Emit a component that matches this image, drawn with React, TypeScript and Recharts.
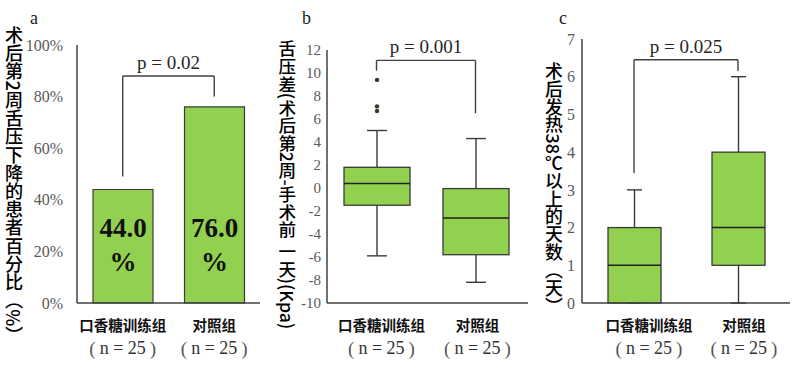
import React from "react";
import { ComposedChart, BarChart, Bar, XAxis, YAxis, ReferenceLine, Label, LabelList } from "recharts";

const groups = ["口香糖训练组", "对照组"];
const groupN = ["n = 25", "n = 25"];

// panel a: share of patients with lower tongue pressure at week 2
const dropRate = [0.44, 0.76];
const pctTicks = [0, 0.2, 0.4, 0.6, 0.8, 1];

// panel b: tongue pressure change (kPa)
const bMin = [-5.9, -8.2];
const bQ1 = [-1.5, -5.8];
const bMedian = [0.4, -2.6];
const bQ3 = [1.8, -0.05];
const bMax = [5.0, 4.3];
const bOutliers = [[6.7, 7.1, 9.4], []];
const bTicks = [-10, -8, -6, -4, -2, 0, 2, 4, 6, 8, 10, 12];

// panel c: days with fever >= 38℃
const cMin = [0, 0];
const cQ1 = [0, 1];
const cMedian = [1, 2];
const cQ3 = [2, 4];
const cMax = [3, 6];
const cTicks = [0, 1, 2, 3, 4, 5, 6, 7];

const GREEN = "#92D050";
const EDGE = "#3a3a3a";
const SERIF = "'Liberation Serif', 'Times New Roman', serif";
const CJK = "'Noto Sans CJK SC', sans-serif";

const aData = groups.map((g, i) => ({ name: g, n: groupN[i], rate: dropRate[i] }));

const boxData = (mins: number[], q1s: number[], meds: number[], q3s: number[], maxs: number[], outs?: number[][]) =>
  groups.map((g, i) => ({
    name: g,
    n: groupN[i],
    min: mins[i],
    q1: q1s[i],
    median: meds[i],
    q3: q3s[i],
    max: maxs[i],
    outliers: outs ? outs[i] : [],
  }));

const bData = boxData(bMin, bQ1, bMedian, bQ3, bMax, bOutliers);
const cData = boxData(cMin, cQ1, cMedian, cQ3, cMax);

function CatTick(props: any) {
  const { x, y, payload, index, shift } = props;
  const dx = shift ? shift[index] || 0 : 0;
  const i = groups.indexOf(payload.value);
  return (
    <g>
      <text x={x + dx} y={y + 19} textAnchor="middle" dominantBaseline="central"
        fontFamily={CJK} fontWeight={700} fontSize={14.5} fill="#111">
        {payload.value}
      </text>
      <text x={x + dx} y={y + 43} textAnchor="middle" dominantBaseline="central"
        fontFamily={SERIF} fontSize={18} fill="#333">
        <tspan fill="#555" fontSize={19}>(</tspan>
        <tspan dx={4}>{groupN[i]}</tspan>
        <tspan dx={4} fill="#555" fontSize={19}>)</tspan>
      </text>
    </g>
  );
}

function makeBox(capW: number) {
  return (props: any) => {
    const { x, y, width, height, payload } = props;
    const yA = y;
    const yB = y + height;
    const pLo = Math.max(yA, yB);
    const pHi = Math.min(yA, yB);
    const lo = payload.min;
    const hi = payload.max;
    const py = (v: number) => pLo - ((v - lo) / (hi - lo)) * (pLo - pHi);
    const cx = x + width / 2;
    return (
      <g>
        <line x1={cx} x2={cx} y1={py(hi)} y2={py(payload.q3)} stroke={EDGE} strokeWidth={1.4} />
        <line x1={cx} x2={cx} y1={py(payload.q1)} y2={py(lo)} stroke={EDGE} strokeWidth={1.4} />
        <line x1={cx - capW / 2} x2={cx + capW / 2} y1={py(hi)} y2={py(hi)} stroke={EDGE} strokeWidth={1.4} />
        <line x1={cx - capW / 2} x2={cx + capW / 2} y1={py(lo)} y2={py(lo)} stroke={EDGE} strokeWidth={1.4} />
        <rect x={x} y={py(payload.q3)} width={width} height={py(payload.q1) - py(payload.q3)}
          fill={GREEN} stroke={EDGE} strokeWidth={1.3} />
        <line x1={x} x2={x + width} y1={py(payload.median)} y2={py(payload.median)} stroke="#222" strokeWidth={1.5} />
        {payload.outliers.map((v: number, k: number) => (
          <circle key={k} cx={cx} cy={py(v)} r={2.2} fill="#2f3b2a" />
        ))}
      </g>
    );
  };
}

function RateLabel(props: any) {
  const { x, y, width, height, value } = props;
  const cx = x + width / 2;
  const bottom = y + height;
  return (
    <g fontFamily={SERIF} fontWeight={700} fontSize={27} fill="#111">
      <text x={cx} y={bottom - 75} textAnchor="middle" dominantBaseline="central">
        {(value * 100).toFixed(1)}
      </text>
      <text x={cx} y={bottom - 41} textAnchor="middle" dominantBaseline="central">
        %
      </text>
    </g>
  );
}

const axisStyle = { stroke: "#404040", strokeWidth: 1.5 };
const bracket = { stroke: "#404040", strokeWidth: 1.4 };

function VTitle({ text, left, top, size }: { text: string; left: number; top: number; size: number }) {
  return (
    <div
      style={{
        position: "absolute",
        left: left - size / 2,
        top,
        writingMode: "vertical-rl",
        fontFamily: CJK,
        fontWeight: 500,
        fontSize: size,
        lineHeight: `${size}px`,
        whiteSpace: "nowrap",
        color: "#000",
      }}
    >
      {text}
    </div>
  );
}

function PanelTag({ text, left }: { text: string; left: number }) {
  return (
    <div style={{ position: "absolute", left, top: 8, fontFamily: SERIF, fontSize: 18, lineHeight: "20px", color: "#222" }}>
      {text}
    </div>
  );
}

export default function App() {
  const [g1, g2] = groups;
  return (
    <div style={{ position: "absolute", left: 0, top: 0, width: 800, height: 369, background: "#fff", overflow: "hidden" }}>
      {/* a */}
      <div style={{ position: "absolute", left: 0, top: 0 }}>
        <BarChart width={270} height={369} data={aData} margin={{ top: 45, right: 10, bottom: 0, left: 0 }}>
          <YAxis
            width={77}
            domain={[0, 1]}
            ticks={pctTicks}
            tickFormatter={(v: number) => `${Math.round(v * 100)}%`}
            axisLine={axisStyle}
            tickLine={false}
            tickMargin={8}
            tick={{ fontFamily: SERIF, fontSize: 16, fill: "#595959" }}
          />
          <XAxis dataKey="name" height={66} axisLine={axisStyle} tickLine={false} tickSize={0} tick={<CatTick />} />
          <Bar dataKey="rate" fill={GREEN} stroke={EDGE} strokeWidth={1.2} barSize={60} isAnimationActive={false}>
            <LabelList dataKey="rate" content={<RateLabel />} />
          </Bar>
          <ReferenceLine segment={[{ x: g1, y: 0.49 }, { x: g1, y: 0.88 }]} {...bracket} />
          <ReferenceLine segment={[{ x: g1, y: 0.88 }, { x: g2, y: 0.88 }]} {...bracket}>
            <Label value="p = 0.02" position="top" offset={7} fontFamily={SERIF} fontSize={19} fill="#262626" />
          </ReferenceLine>
          <ReferenceLine segment={[{ x: g2, y: 0.88 }, { x: g2, y: 0.8 }]} {...bracket} />
        </BarChart>
      </div>

      {/* b */}
      <div style={{ position: "absolute", left: 270, top: 0 }}>
        <ComposedChart width={260} height={369} data={bData} margin={{ top: 50, right: 2, bottom: 0, left: 0 }}>
          <YAxis
            width={57}
            domain={[-10, 12]}
            ticks={bTicks}
            axisLine={axisStyle}
            tickLine={false}
            tickMargin={0}
            tick={{ fontFamily: SERIF, fontSize: 15, fill: "#595959" }}
          />
          <XAxis dataKey="name" height={66} padding={{ left: 0, right: 3 }} axisLine={axisStyle} tickLine={false} tickSize={0}
            tick={<CatTick shift={[5, 2]} />} />
          <Bar dataKey={(d: any) => [d.min, d.max]} barSize={66} shape={makeBox(20)} isAnimationActive={false} />
          <ReferenceLine segment={[{ x: g1, y: 10.2 }, { x: g1, y: 11.1 }]} {...bracket} />
          <ReferenceLine segment={[{ x: g1, y: 11.1 }, { x: g2, y: 11.1 }]} {...bracket}>
            <Label value="p = 0.001" position="top" offset={7} fontFamily={SERIF} fontSize={19} fill="#262626" />
          </ReferenceLine>
          <ReferenceLine segment={[{ x: g2, y: 11.1 }, { x: g2, y: 6.5 }]} {...bracket} />
        </ComposedChart>
      </div>

      {/* c */}
      <div style={{ position: "absolute", left: 530, top: 0 }}>
        <ComposedChart width={270} height={369} data={cData} margin={{ top: 39, right: 10, bottom: 0, left: 0 }}>
          <YAxis
            width={52}
            domain={[0, 7]}
            ticks={cTicks}
            axisLine={axisStyle}
            tickLine={false}
            tickMargin={1}
            tick={{ fontFamily: SERIF, fontSize: 16, fill: "#595959" }}
          />
          <XAxis dataKey="name" height={66} axisLine={axisStyle} tickLine={false} tickSize={0}
            tick={<CatTick shift={[15, 6]} />} />
          <Bar dataKey={(d: any) => [d.min, d.max]} barSize={53} shape={makeBox(15)} isAnimationActive={false} />
          <ReferenceLine segment={[{ x: g1, y: 3.45 }, { x: g1, y: 6.45 }]} {...bracket} />
          <ReferenceLine segment={[{ x: g1, y: 6.45 }, { x: g2, y: 6.45 }]} {...bracket}>
            <Label value="p = 0.025" position="top" offset={7} fontFamily={SERIF} fontSize={19} fill="#262626" />
          </ReferenceLine>
          <ReferenceLine segment={[{ x: g2, y: 6.45 }, { x: g2, y: 6.15 }]} {...bracket} />
        </ComposedChart>
      </div>

      <VTitle text="术后第2周舌压下降的患者百分比（%）" left={14} top={26} size={18.2} />
      <VTitle text="舌压差(术后第2周-手术前 一天)(Kpa)" left={287} top={40} size={17.6} />
      <VTitle text="术后发热38℃以上的天数（天）" left={553} top={62} size={17.9} />

      <PanelTag text="a" left={30} />
      <PanelTag text="b" left={302} />
      <PanelTag text="c" left={559} />
    </div>
  );
}
